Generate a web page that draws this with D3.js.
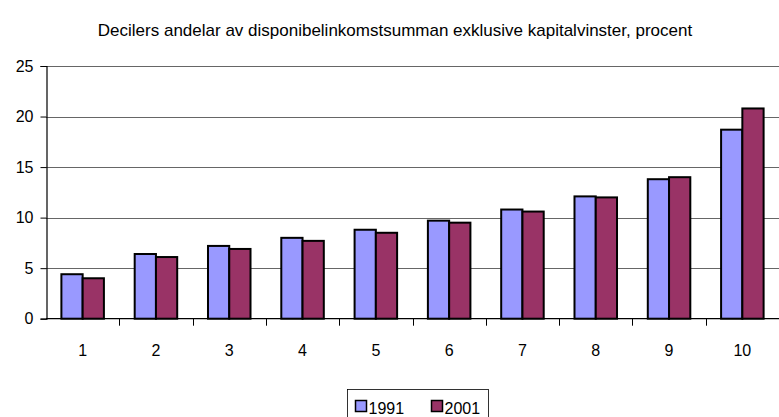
<!DOCTYPE html>
<html>
<head>
<meta charset="utf-8">
<script src="https://cdn.jsdelivr.net/npm/d3@7"></script>
<style>
  body { margin: 0; background: #fff; }
  svg { font-family: "Liberation Sans", Arial, sans-serif; }
</style>
</head>
<body>
<svg width="779" height="417"></svg>
<script>
const deciles = ["1", "2", "3", "4", "5", "6", "7", "8", "9", "10"];
const years = ["1991", "2001"];
const values1991 = [4.4, 6.4, 7.2, 8.0, 8.8, 9.7, 10.8, 12.1, 13.8, 18.7];
const values2001 = [4.0, 6.1, 6.9, 7.7, 8.5, 9.5, 10.6, 12.0, 14.0, 20.8];
const yTicks = [0, 5, 10, 15, 20, 25];
const colors = ["#9999ff", "#993366"];

const width = 779, height = 417;
const margin = {top: 66, right: 0, bottom: 98, left: 46};

const svg = d3.select("svg");

const x = d3.scaleBand()
    .domain(deciles)
    .range([margin.left, width - margin.right])
    .paddingInner(0.42)
    .paddingOuter(0.21);

const step = x.step();
const xs = d3.scaleBand().domain(years).range([0, x.bandwidth()]);

const y = d3.scaleLinear()
    .domain([0, 25])
    .range([height - margin.bottom - 0.3, margin.top]);

// gridlines
svg.append("g")
    .selectAll("line")
    .data(yTicks.slice(1))
    .join("line")
    .attr("x1", margin.left)
    .attr("x2", width)
    .attr("y1", d => Math.round(y(d)) + 0.5)
    .attr("y2", d => Math.round(y(d)) + 0.5)
    .attr("stroke", "#666")
    .attr("stroke-width", 1.2);

// y axis
const gy = svg.append("g")
    .attr("transform", `translate(${margin.left + 0.5},0)`)
    .call(d3.axisLeft(y).tickValues(yTicks).tickSize(6).tickPadding(7));
gy.select(".domain").attr("stroke", "#000").attr("stroke-width", 1.2);
gy.selectAll(".tick line").attr("stroke", "#000");
gy.selectAll("text").attr("font-size", 16).attr("fill", "#000")
    .attr("font-family", "Liberation Sans, Arial, sans-serif");

// bars
const series = [values1991, values2001];
const groups = svg.append("g")
    .selectAll("g")
    .data(years)
    .join("g")
    .attr("fill", (d, i) => colors[i]);

groups.selectAll("rect")
    .data((yr, i) => series[i].map((v, j) => ({cat: deciles[j], yr, v})))
    .join("rect")
    .attr("x", d => x(d.cat) + xs(d.yr))
    .attr("width", xs.bandwidth())
    .attr("y", d => y(d.v))
    .attr("height", d => y(0) - y(d.v))
    .attr("stroke", "#000")
    .attr("stroke-width", 2);

// x axis (ticks at category boundaries)
const y0 = y(0);
const gx = svg.append("g");
gx.append("line")
    .attr("x1", margin.left)
    .attr("x2", width)
    .attr("y1", y0)
    .attr("y2", y0)
    .attr("stroke", "#000")
    .attr("stroke-width", 1.2);
gx.selectAll("line.tk")
    .data(deciles.slice(1))
    .join("line")
    .attr("class", "tk")
    .attr("x1", d => Math.round(x(d) - step * x.paddingInner() / 2) + 0.5)
    .attr("x2", d => Math.round(x(d) - step * x.paddingInner() / 2) + 0.5)
    .attr("y1", y0)
    .attr("y2", y0 + 7)
    .attr("stroke", "#000");
gx.selectAll("text")
    .data(deciles)
    .join("text")
    .attr("x", d => x(d) + x.bandwidth() / 2)
    .attr("y", y0 + 37)
    .attr("text-anchor", "middle")
    .attr("font-size", 16)
    .text(d => d);

// title
svg.append("text")
    .attr("x", 395)
    .attr("y", 36)
    .attr("text-anchor", "middle")
    .attr("font-size", 17)
    .text("Decilers andelar av disponibelinkomstsumman exklusive kapitalvinster, procent");

// legend
const legend = svg.append("g").attr("transform", "translate(347.5,389.5)");
legend.append("rect")
    .attr("width", 141)
    .attr("height", 30)
    .attr("fill", "#fff")
    .attr("stroke", "#000")
    .attr("stroke-width", 0.8);
const items = legend.selectAll("g")
    .data(years)
    .join("g")
    .attr("transform", (d, i) => `translate(${8 + i * 76},11)`);
items.append("rect")
    .attr("width", 11)
    .attr("height", 11)
    .attr("fill", (d, i) => colors[i])
    .attr("stroke", "#000")
    .attr("stroke-width", 1.5);
items.append("text")
    .attr("x", 13)
    .attr("y", 13)
    .attr("font-size", 16)
    .text(d => d);
</script>
</body>
</html>
